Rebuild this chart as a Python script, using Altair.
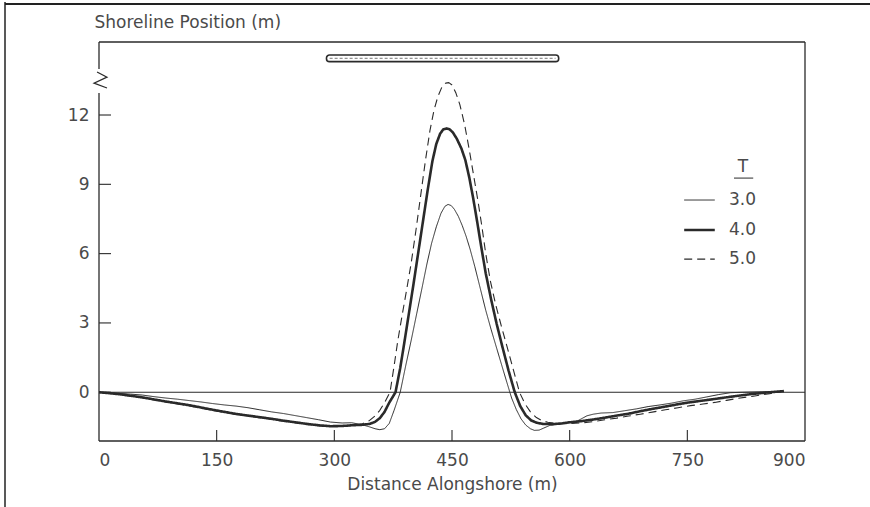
import altair as alt
import pandas as pd

# ---------------- data ----------------
T_labels = ["3.0", "4.0", "5.0"]

x_t3 = [0, 10, 25, 40, 55, 70, 85, 100, 115, 130, 145, 160, 175, 190, 205, 220, 235, 250, 265, 280,
        295, 310, 322, 335, 345, 352, 358, 364, 370, 376, 384, 391, 398, 405, 412, 418, 424, 430, 436,
        441, 445, 449, 453, 458, 463, 468, 473, 479, 486, 493, 500, 507, 514, 520, 526, 532, 538, 544, 550,
        555, 561, 567, 575, 585, 595, 603, 610, 616, 622, 630, 640, 655, 670, 685, 700, 715, 730, 745, 760,
        775, 790, 805, 820, 840, 860, 873]
y_t3 = [0.0, -0.02, -0.05, -0.08, -0.12, -0.19, -0.25, -0.30, -0.36, -0.42, -0.49, -0.55, -0.60, -0.67,
        -0.76, -0.85, -0.92, -1.01, -1.10, -1.19, -1.29, -1.33, -1.32, -1.40, -1.50, -1.58, -1.62, -1.58,
        -1.35, -0.80, 0.0, 1.15, 2.25, 3.40, 4.55, 5.55, 6.45, 7.16, 7.75, 8.05, 8.13, 8.08, 7.92, 7.62,
        7.22, 6.75, 6.20, 5.45, 4.50, 3.55, 2.70, 1.90, 1.10, 0.42, -0.25, -0.75, -1.15, -1.42, -1.58, -1.65,
        -1.64, -1.55, -1.43, -1.38, -1.33, -1.30, -1.24, -1.13, -1.02, -0.95, -0.90, -0.88, -0.80, -0.72,
        -0.62, -0.55, -0.47, -0.37, -0.30, -0.20, -0.10, -0.02, 0.0, 0.02, 0.03, 0.04, 0.05]

x_t4 = [0, 10, 25, 40, 55, 70, 85, 100, 115, 130, 145, 160, 175, 190, 205, 220, 235, 250, 265, 280,
        295, 310, 322, 335, 345, 352, 358, 364, 370, 378, 384, 389, 395, 401, 407, 413, 419, 425, 430,
        435, 439, 443, 447, 451, 456, 462, 467, 472, 477, 482, 487, 493, 500, 507, 514, 522, 530, 537, 544,
        551, 558, 566, 578, 590, 600, 615, 630, 645, 660, 675, 690, 707, 722, 738, 754, 770, 785, 800,
        815, 834, 855, 873]
y_t4 = [0.0, -0.03, -0.08, -0.15, -0.22, -0.31, -0.40, -0.48, -0.56, -0.66, -0.76, -0.85, -0.94, -1.01,
        -1.08, -1.15, -1.23, -1.30, -1.37, -1.43, -1.47, -1.46, -1.43, -1.41, -1.37, -1.28, -1.12, -0.85,
        -0.45, 0.0, 1.05, 2.10, 3.40, 4.70, 6.05, 7.40, 8.75, 10.0, 10.75, 11.2, 11.38, 11.42, 11.38,
        11.25, 10.98, 10.55, 10.05, 9.30, 8.40, 7.40, 6.35, 5.15, 4.00, 2.95, 2.00, 0.95, 0.0, -0.60, -1.00,
        -1.22, -1.32, -1.37, -1.38, -1.35, -1.30, -1.25, -1.18, -1.10, -1.01, -0.93, -0.82, -0.71, -0.62,
        -0.52, -0.43, -0.36, -0.29, -0.22, -0.15, -0.07, 0.0, 0.05]

x_t5 = [0, 10, 25, 40, 55, 70, 85, 100, 115, 130, 145, 160, 175, 190, 205, 220, 235, 250, 265, 280,
        295, 310, 322, 335, 345, 352, 358, 364, 371, 376, 381, 386, 392, 398, 404, 410, 416, 422, 427,
        432, 437, 442, 446, 450, 455, 460, 466, 472, 478, 483, 488, 493, 499, 506, 513, 520, 528, 536,
        543, 550, 557, 564, 572, 585, 600, 615, 630, 645, 660, 675, 690, 707, 722, 738, 754, 770, 785,
        800, 815, 834, 855, 873]
y_t5 = [0.0, -0.03, -0.09, -0.16, -0.24, -0.33, -0.42, -0.50, -0.59, -0.68, -0.78, -0.87, -0.96, -1.03,
        -1.10, -1.17, -1.25, -1.32, -1.39, -1.45, -1.48, -1.47, -1.44, -1.38, -1.22, -1.02, -0.78, -0.45,
        0.0, 1.10, 2.25, 3.25, 4.40, 5.60, 7.00, 8.50, 10.0, 11.35, 12.2, 12.8, 13.2, 13.38, 13.4, 13.3,
        12.95, 12.45, 11.6, 10.5, 9.3, 8.3, 7.2, 6.0, 4.8, 3.75, 2.85, 2.0, 1.0, 0.0, -0.50, -0.85, -1.08,
        -1.22, -1.30, -1.35, -1.35, -1.33, -1.27, -1.19, -1.12, -1.03, -0.95, -0.85, -0.76, -0.67, -0.58,
        -0.51, -0.44, -0.35, -0.26, -0.17, -0.06, 0.05]

x_ticks = [0, 150, 300, 450, 600, 750, 900]
y_ticks = [0, 3, 6, 9, 12]

# structure (bar at top), in data units
bar_x = [290, 586]
bar_y = [14.31, 14.60]

# axis-break glyph, in data units
brk_x = [-2.5, 10.2, -6.4, 10.2]
brk_y = [13.86, 13.64, 13.38, 13.17]

# ---------------- layout ----------------
W, H = 706, 399
XMIN, XMAX = 0, 900
YMIN, YMAX = -2.11, 15.16
INK = "#2a2a2a"
TXT = "#4a4a4a"
FONT = "DejaVu Sans"
FS = 17

rows = []
for lab, xs, ys in [("3.0", x_t3, y_t3), ("4.0", x_t4, y_t4), ("5.0", x_t5, y_t5)]:
    for a, b in zip(xs, ys):
        rows.append({"T": lab, "x": a, "y": b})
df = pd.DataFrame(rows)

xsc = alt.Scale(domain=[XMIN, XMAX], nice=False, zero=False)
ysc = alt.Scale(domain=[YMIN, YMAX], nice=False, zero=False)
dash_sc = alt.Scale(type="ordinal", domain=T_labels, range=[[1, 0], [1, 0], [8, 5]])
wid_sc = alt.Scale(type="ordinal", domain=T_labels, range=[1.0, 2.6, 1.1])

one = pd.DataFrame({"a": [0]})

curves = alt.Chart(df).mark_line(color=INK, strokeJoin="round").encode(
    x=alt.X("x:Q", scale=xsc,
            axis=alt.Axis(values=x_ticks, domain=False, ticks=False, grid=False,
                          labelFont=FONT, labelFontSize=FS, labelColor=TXT, labelPadding=11,
                          title="Distance Alongshore (m)", titleFont=FONT, titleFontSize=FS,
                          titleFontWeight="normal", titleColor=TXT, titlePadding=8)),
    y=alt.Y("y:Q", scale=ysc,
            axis=alt.Axis(values=y_ticks, domain=False, ticks=False, grid=False,
                          labelFont=FONT, labelFontSize=FS, labelColor=TXT, labelPadding=10,
                          title="Shoreline Position (m)", titleFont=FONT, titleFontSize=FS,
                          titleFontWeight="normal", titleColor=TXT, titleAngle=0,
                          titleAlign="left", titleBaseline="middle", titleX=-5, titleY=-20)),
    strokeDash=alt.StrokeDash("T:N", scale=dash_sc, legend=None),
    strokeWidth=alt.StrokeWidth("T:N", scale=wid_sc, legend=None),
    detail="T:N",
    order="x:Q",
)

zero_line = alt.Chart(one).mark_rule(color=INK, strokeWidth=1).encode(
    x=alt.datum(XMIN, scale=xsc), x2=alt.datum(XMAX), y=alt.datum(0, scale=ysc))

frame = [
    alt.Chart(one).mark_rule(color=INK, strokeWidth=1.3).encode(x=alt.value(0), x2=alt.value(W), y=alt.value(0)),
    alt.Chart(one).mark_rule(color=INK, strokeWidth=1.3).encode(x=alt.value(0), x2=alt.value(W), y=alt.value(H)),
    alt.Chart(one).mark_rule(color=INK, strokeWidth=1.3).encode(x=alt.value(W), y=alt.value(0), y2=alt.value(H)),
    alt.Chart(one).mark_rule(color=INK, strokeWidth=1.3).encode(x=alt.value(0), y=alt.value(0), y2=alt.value(27)),
    alt.Chart(one).mark_rule(color=INK, strokeWidth=1.3).encode(x=alt.value(0), y=alt.value(51), y2=alt.value(H)),
    # outer page border (top / left)
    alt.Chart(one).mark_rule(color="#222", strokeWidth=2).encode(x=alt.value(-94), x2=alt.value(771), y=alt.value(-38)),
    alt.Chart(one).mark_rule(color="#222", strokeWidth=1.5).encode(x=alt.value(-94), y=alt.value(-40), y2=alt.value(465)),
]

brk = alt.Chart(pd.DataFrame({"bx": brk_x, "by": brk_y, "o": [0, 1, 2, 3]})).mark_line(
    color=INK, strokeWidth=1.2).encode(
    x=alt.X("bx:Q", scale=xsc), y=alt.Y("by:Q", scale=ysc), order="o:Q")

xt = alt.Chart(pd.DataFrame({"t": x_ticks[1:-1]})).mark_rule(color=INK, strokeWidth=1.1).encode(
    x=alt.X("t:Q", scale=xsc), y=alt.value(H - 11), y2=alt.value(H))
yt = alt.Chart(pd.DataFrame({"t": y_ticks})).mark_rule(color=INK, strokeWidth=1.1).encode(
    y=alt.Y("t:Q", scale=ysc), x=alt.value(0), x2=alt.value(12))

bar = alt.Chart(pd.DataFrame({"x0": [bar_x[0]], "x1": [bar_x[1]], "y0": [bar_y[0]], "y1": [bar_y[1]]})).mark_rect(
    fill="white", stroke=INK, strokeWidth=1.6, cornerRadius=3).encode(
    x=alt.X("x0:Q", scale=xsc), x2="x1:Q", y=alt.Y("y0:Q", scale=ysc), y2="y1:Q")
bar_in = alt.Chart(pd.DataFrame({"x0": [bar_x[0] + 4], "x1": [bar_x[1] - 4],
                                 "ym": [(bar_y[0] + bar_y[1]) / 2]})).mark_rule(
    color="#777", strokeWidth=1, strokeDash=[3, 2]).encode(
    x=alt.X("x0:Q", scale=xsc), x2="x1:Q", y=alt.Y("ym:Q", scale=ysc))

# legend (drawn with the same strokeDash/strokeWidth scales)
leg = pd.DataFrame({"T": T_labels, "lx0": [746] * 3, "lx1": [785] * 3, "tx": [803] * 3,
                    "ly": [8.32, 7.02, 5.76]})
leg_lines = alt.Chart(leg).mark_rule(color=INK).encode(
    x=alt.X("lx0:Q", scale=xsc), x2="lx1:Q", y=alt.Y("ly:Q", scale=ysc),
    strokeDash=alt.StrokeDash("T:N", scale=dash_sc, legend=None),
    strokeWidth=alt.StrokeWidth("T:N", scale=wid_sc, legend=None))
leg_text = alt.Chart(leg).mark_text(align="left", baseline="middle", font=FONT, fontSize=FS, color=TXT).encode(
    x=alt.X("tx:Q", scale=xsc), y=alt.Y("ly:Q", scale=ysc), text="T:N")
leg_title = alt.Chart(pd.DataFrame({"tx": [821], "ty": [9.75], "s": ["T"]})).mark_text(
    align="center", baseline="middle", font=FONT, fontSize=FS, color=TXT).encode(
    x=alt.X("tx:Q", scale=xsc), y=alt.Y("ty:Q", scale=ysc), text="s:N")
leg_ul = alt.Chart(pd.DataFrame({"a": [809.5], "b": [834], "c": [9.27]})).mark_rule(color=INK, strokeWidth=1).encode(
    x=alt.X("a:Q", scale=xsc), x2="b:Q", y=alt.Y("c:Q", scale=ysc))

chart = alt.layer(
    zero_line, curves, *frame, brk, xt, yt, bar, bar_in, leg_lines, leg_text, leg_title, leg_ul
).properties(
    width=W, height=H,
    autosize=alt.AutoSizeParams(type="none"),
    padding={"left": 99, "top": 42, "right": 65, "bottom": 66},
    background="white",
).configure_view(stroke=None)

chart.save("out.html", embed_options={"renderer": "svg", "actions": False})
